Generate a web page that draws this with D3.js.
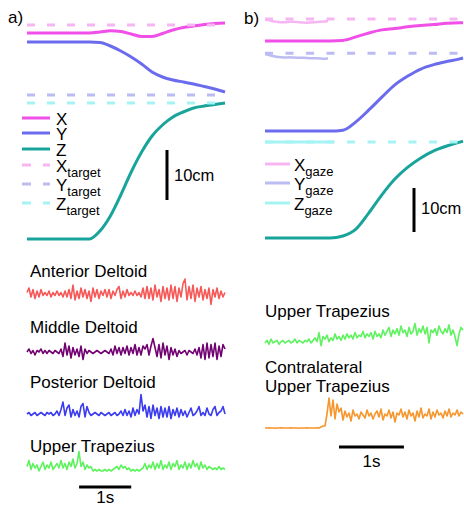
<!DOCTYPE html>
<html><head><meta charset="utf-8">
<script src="https://cdn.jsdelivr.net/npm/d3@7"></script>
<style>body{margin:0;background:#fff}svg{display:block;font-family:"Liberation Sans",Arial,sans-serif}</style>
</head><body><svg id="c" width="464" height="510"></svg>
<script>
// ---------- Panel a: hand trajectory (cm) ----------
const timeA = [0,0.2,0.4,0.6,0.8,1.0,1.2,1.4,1.6,1.8,2.0,2.2,2.4,2.6,2.8,3.0,3.2,3.4,3.6,3.8];
const handXA = [41.2,41.2,41.2,41.2,41.2,41.2,41.2,41.4,41.66,41.5,41.0,40.5,40.5,41.1,41.8,42.3,42.6,42.9,43.1,43.2];
const handYA = [39.4,39.4,39.4,39.4,39.4,39.4,39.4,39.3,38.6,37.6,36.4,35.0,33.4,32.4,31.8,31.4,31.0,30.5,30.0,29.4];
const handZA = [0,0,0,0,0,0,0,1.6,4.6,8.8,13.4,17.4,20.6,22.8,24.4,25.4,26.2,26.6,26.9,27.2];
const targetA = [42.8, 28.8, 27.2];          // X, Y, Z target (cm)
const legendMainA = ["X","Y","Z","X","Y","Z"];
const legendSubA = ["","","","target","target","target"];

// ---------- Panel b: hand trajectory + gaze (cm) ----------
const timeB = [0,0.2,0.4,0.6,0.8,1.0,1.2,1.4,1.6,1.8,2.0,2.2,2.4,2.6,2.8,3.0,3.05];
const handXB = [44.8,44.8,44.8,44.8,44.8,44.8,44.9,45.7,46.6,47.3,47.6,48.0,48.3,48.5,48.8,48.9,48.95];
const handYB = [24.3,24.3,24.3,24.3,24.3,24.3,24.5,26.4,29.1,32.0,34.8,36.8,38.4,39.4,40.1,40.7,40.9];
const handZB = [0,0,0,0,0,0,0.45,2.0,5.7,9.8,13.4,16.1,18.2,19.8,20.9,21.8,22.0];
const gazeTime = [0,0.1,0.2,0.3,0.4,0.5,0.6,0.7,0.8,0.9,0.97];
const gazeX = [49.7,49.3,49.1,49.0,49.2,49.1,48.9,49.0,49.1,49.2,49.3];
const gazeY = [41.8,41.4,41.1,41.0,41.1,40.9,41.0,40.8,40.9,40.7,40.8];
const gazeZTime = [0,1.06];
const gazeZ = [21.8,21.8];
const gazeFix = [49.8, 42.0, 21.8];
const legendMainB = ["X","Y","Z"];
const legendSubB = ["gaze","gaze","gaze"];

// ---------- EMG (a.u.) ----------
const emgNamesA = ["Anterior Deltoid","Middle Deltoid","Posterior Deltoid","Upper Trapezius"];
const emgAnterior = [1,4,-2,3,-3,2,-2,3,-1,1, -1,2,-2,1,-1,2,-1,1,-2,2, -2,3,-3,6,-4,2,-3,4,-2,3, -3,2,-5,4,-2,3,-3,2,-1,3, -2,3,-3,2,-1,3,5,-3,2,-2, 3,-1,1,-1,2,-1,1,-2,4,-3, 5,-3,4,-4,6,-2,3,-5,5,-3, 4,-4,6,-3,5,-5,4,-2,7,10, -4,5,-3,6,-5,4,-2,5,-4,3, -3,4,-7,3,-2,4,-3,2,-2,1];
const emgMiddle = [0,2,-1,1,-2,1,0,2,-1,1, -1,1,0,-1,1,0,-1,2,-3,6, -2,4,-4,3,-2,2,-3,4,-5,2, -1,1,0,-1,0,1,0,-1,0,1, 0,-1,2,-2,4,-1,3,-2,3,-1, 4,-2,3,-1,5,-2,3,-2,4,2, 5,-2,4,9,3,-3,5,-4,6,-2, 4,-5,3,-2,2,-3,1,-1,0,1, -2,1,0,-1,2,-2,3,-4,5,-5, 6,-4,5,-3,6,-5,4,-3,5,2];
const emgPosterior = [0,1,-1,0,1,-1,0,1,0,-1, 1,0,1,-1,0,2,-1,3,8,-1, 4,6,-2,3,-1,2,-2,5,7,-2, 5,1,-1,0,1,0,-1,1,0,-1, 0,1,-1,0,1,-1,0,2,-1,3, -1,2,-2,4,-1,3,0,13,2,6, -2,5,-3,6,-1,4,-3,5,-2,4, -2,5,-3,3,-1,4,-2,3,-1,2, -2,1,4,-1,0,2,5,-1,1,-1, 4,0,-1,3,5,-1,1,2,5,0];
const emgTrapA = [3,7,1,5,2,4,0,3,6,1, 4,2,6,1,3,5,2,7,2,5, 1,6,3,8,2,5,13,3,6,1, 4,2,3,0,1,0,1,0,0,1, 0,1,0,1,2,3,1,4,2,3, 1,2,0,1,0,1,0,1,2,5, 1,4,2,6,1,5,2,7,1,4, 2,6,1,5,3,7,1,4,2,6, 1,5,2,7,3,5,1,6,2,4, 1,3,2,1,2,1,3,1,2,1];
const emgNamesB = [["Upper Trapezius"],["Contralateral","Upper Trapezius"]];
const emgTrapB = [0,2,-1,3,0,1,2,-1,1,2, 0,1,2,0,1,3,0,2,1,0, 2,1,3,0,2,4,1,8,-2,5, 3,6,1,4,2,7,3,5,2,6, 3,7,4,6,3,8,4,6,5,9, 4,7,5,8,3,9,5,7,4,10, 6,9,12,5,10,7,11,6,13,8, 10,5,12,7,9,15,6,11,8,13, 7,12,0,10,8,11,6,13,9,7, 11,8,14,6,10,5,-2,7,12,10];
const emgContra = [0,0,0.3,0,0,-0.3,0,0,0.3,0, 0,0,0,0.3,0,0,0,-0.3,0,0, 0,0.3,0,0,0,0,0.3,0,1,2, 2,14,30,12,28,9,24,16,20,8, 17,11,15,7,18,12,14,9,16,13, 10,18,12,15,9,14,17,11,19,8, 14,12,18,10,16,6,15,13,19,11, 16,9,18,12,15,7,17,11,20,10, 14,12,19,9,16,11,18,13,15,10, 17,12,19,11,15,13,18,12,16,14];

// ---------- drawing ----------
const svg = d3.select("#c");
const cX = "#f04fe8", cY = "#6b6bee", cZ = "#18a49b";
const cXl = "#f6b6f2", cYl = "#bcbcf2", cZl = "#a6f3f3";

// scales
const xA = d3.scaleLinear().domain([0,3.8]).range([27,225]);
const yA = d3.scaleLinear().domain([0,10]).range([239,189]);
const xB = d3.scaleLinear().domain([0,3.05]).range([265,463]);
const yB = d3.scaleLinear().domain([0,10]).range([238,194]);

function traj(g, t, v, xs, ys, color, w, curve, dash){
  const line = d3.line().x((d,i)=>xs(t[i])).y(d=>ys(d)).curve(curve||d3.curveMonotoneX);
  const p = g.append("path").attr("d", line(v)).attr("fill","none").attr("stroke",color)
    .attr("stroke-width",w).attr("stroke-linecap","butt");
  if(dash) p.attr("stroke-dasharray",dash);
}

// Panel a
const gA = svg.append("g");
gA.append("text").attr("x",8).attr("y",23).attr("font-size",17).text("a)");
traj(gA, timeA, handXA, xA, yA, cX, 3);
traj(gA, timeA, handYA, xA, yA, cY, 3);
traj(gA, timeA, handZA, xA, yA, cZ, 3);
[cXl,cYl,cZl].forEach((c,i)=>{
  traj(gA, [0,3.8], [targetA[i],targetA[i]], xA, yA, c, 3, d3.curveLinear, "8,12");
});
// legend a
const legYA = [118,133,149,165,184,203];
const legColA = [cX,cY,cZ,cXl,cYl,cZl];
legendMainA.forEach((m,i)=>{
  const ln = gA.append("line").attr("x1",22).attr("x2",50).attr("y1",legYA[i]).attr("y2",legYA[i])
    .attr("stroke",legColA[i]).attr("stroke-width",3);
  if(legendSubA[i]) ln.attr("stroke-dasharray","9,12");
  const t = gA.append("text").attr("x",56).attr("y",legYA[i]+6.5).attr("font-size",17);
  t.append("tspan").text(m);
  if(legendSubA[i]) t.append("tspan").attr("dy",5).attr("font-size",13).text(legendSubA[i]);
});
// 10 cm bar a
gA.append("line").attr("x1",167).attr("x2",167).attr("y1",yA(0)-89).attr("y2",yA(0)-89+(yA(0)-yA(10)))
  .attr("stroke","#000").attr("stroke-width",3);
gA.append("text").attr("x",174).attr("y",181).attr("font-size",16.5).text("10cm");

// EMG a
const emgA = [emgAnterior, emgMiddle, emgPosterior, emgTrapA];
const emgColA = ["#f65858","#720272","#3b3bf0","#5ef25e"];
const emgBaseA = [294, 352, 414, 471];
const emgLabelYA = [277, 333, 388, 452];
emgA.forEach((arr,k)=>{
  gA.append("text").attr("x",30).attr("y",emgLabelYA[k]).attr("font-size",17).text(emgNamesA[k]);
  const xs = d3.scaleLinear().domain([0,arr.length-1]).range(xA.range());
  const ys = d3.scaleLinear().domain([0,10]).range([emgBaseA[k], emgBaseA[k]-15]);
  gA.append("path").attr("d", d3.line().x((d,i)=>xs(i)).y(d=>ys(d))(arr))
    .attr("fill","none").attr("stroke",emgColA[k]).attr("stroke-width",1.6).attr("stroke-linejoin","round");
});
gA.append("line").attr("x1",xA(1.0)).attr("x2",xA(2.0)).attr("y1",487).attr("y2",487)
  .attr("stroke","#000").attr("stroke-width",3);
gA.append("text").attr("x",(xA(1.0)+xA(2.0))/2).attr("y",503).attr("font-size",17).attr("text-anchor","middle").text("1s");

// Panel b
const gB = svg.append("g");
gB.append("text").attr("x",244).attr("y",24).attr("font-size",17).text("b)");
traj(gB, timeB, handXB, xB, yB, cX, 3);
traj(gB, timeB, handYB, xB, yB, cY, 3);
traj(gB, timeB, handZB, xB, yB, cZ, 3);
[cXl,cYl,cZl].forEach((c,i)=>{
  traj(gB, [0,3.05], [gazeFix[i],gazeFix[i]], xB, yB, c, 3, d3.curveLinear, "8,12.5");
});
traj(gB, gazeTime, gazeX, xB, yB, cXl, 2.5, d3.curveBasis);
traj(gB, gazeTime, gazeY, xB, yB, cYl, 2.5, d3.curveBasis);
traj(gB, gazeZTime, gazeZ, xB, yB, cZl, 3, d3.curveLinear);
// legend b
const legYB = [164,183,203];
const legColB = [cXl,cYl,cZl];
legendMainB.forEach((m,i)=>{
  gB.append("line").attr("x1",265).attr("x2",290).attr("y1",legYB[i]).attr("y2",legYB[i])
    .attr("stroke",legColB[i]).attr("stroke-width",3);
  const t = gB.append("text").attr("x",294).attr("y",legYB[i]+6.5).attr("font-size",17);
  t.append("tspan").text(m);
  t.append("tspan").attr("dy",5).attr("font-size",13).text(legendSubB[i]);
});
gB.append("line").attr("x1",414).attr("x2",414).attr("y1",188).attr("y2",188+(yB(0)-yB(10)))
  .attr("stroke","#000").attr("stroke-width",3);
gB.append("text").attr("x",421).attr("y",214).attr("font-size",16.5).text("10cm");

// EMG b
const emgB = [emgTrapB, emgContra];
const emgColB = ["#5ef25e","#f6962c"];
const emgBaseB = [343, 428];
const emgGainB = [13, 10];
const emgLabelYB = [[317],[373,392]];
emgB.forEach((arr,k)=>{
  emgNamesB[k].forEach((s,j)=>{
    gB.append("text").attr("x",265).attr("y",emgLabelYB[k][j]).attr("font-size",17).text(s);
  });
  const xs = d3.scaleLinear().domain([0,arr.length-1]).range(xB.range());
  const ys = d3.scaleLinear().domain([0,10]).range([emgBaseB[k], emgBaseB[k]-emgGainB[k]]);
  gB.append("path").attr("d", d3.line().x((d,i)=>xs(i)).y(d=>ys(d))(arr))
    .attr("fill","none").attr("stroke",emgColB[k]).attr("stroke-width",1.6).attr("stroke-linejoin","round");
});
gB.append("line").attr("x1",339).attr("x2",339+(xB(1)-xB(0))).attr("y1",447).attr("y2",447)
  .attr("stroke","#000").attr("stroke-width",3);
gB.append("text").attr("x",339+(xB(1)-xB(0))/2).attr("y",467).attr("font-size",17).attr("text-anchor","middle").text("1s");
</script></body></html>
